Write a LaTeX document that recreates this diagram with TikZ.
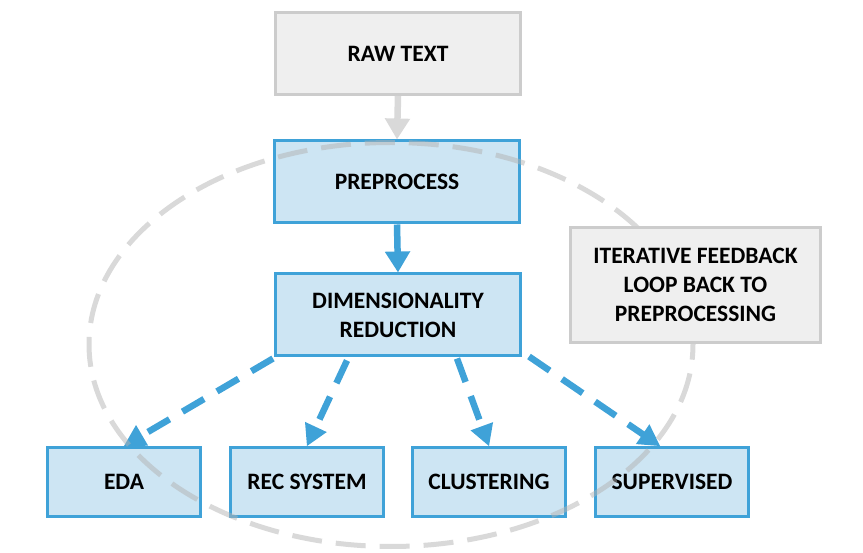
\documentclass[tikz,border=0pt]{standalone}
\usepackage{fontspec}
\setmainfont{Carlito}
\usetikzlibrary{arrows.meta,calc}
\definecolor{bbord}{HTML}{3FA2D8}
\definecolor{bfill}{HTML}{CDE5F3}
\definecolor{gbord}{HTML}{CCCCCC}
\definecolor{gfill}{HTML}{EFEFEF}
\definecolor{garrow}{HTML}{D9D9D9}
\definecolor{gloop}{HTML}{B3B3B3}
\tikzset{
  boxtxt/.style={font=\fontsize{23.5}{29}\selectfont\bfseries, text=black, align=center, inner sep=0pt},
  bluebox/.style={boxtxt, draw=bbord, fill=bfill, line width=3pt, rectangle},
  graybox/.style={boxtxt, draw=gbord, fill=gfill, line width=3pt, rectangle},
  bigbox/.style={minimum width=245pt, minimum height=82pt},
  smallbox/.style={minimum width=153pt, minimum height=69pt},
  bluearrow/.style={draw=bbord, line width=6.5pt, -{Triangle[width=24pt,length=21pt]}},
  grayarrow/.style={draw=garrow, line width=6.5pt, -{Triangle[width=24pt,length=21pt]}},
  dashline/.style={draw=bbord, line width=6.5pt, dash pattern=on 25pt off 15pt, shorten >=19pt},
  tiphead/.style={fill=bbord},
  loopline/.style={draw=gloop, draw opacity=0.5, line width=5pt, dash pattern=on 30pt off 14pt}
}
\begin{document}
\begin{tikzpicture}[x=1pt,y=1pt]
\useasboundingbox (0,0) rectangle (863,-553);
\node[graybox,bigbox] (raw) at (398,-53.5) {RAW TEXT};
\node[bluebox,bigbox] (pre) at (397,-182) {PREPROCESS};
\node[bluebox,bigbox] (dim) at (398,-315) {DIMENSIONALITY\\REDUCTION};
\node[bluebox,smallbox] (eda) at (124,-482) {EDA};
\node[bluebox,smallbox] (rec) at (307,-482) {REC SYSTEM};
\node[bluebox,smallbox] (clu) at (489,-482) {CLUSTERING};
\node[bluebox,smallbox] (sup) at (672,-482) {SUPERVISED};
\draw[grayarrow] (raw.south) -- (pre.north);
\draw[bluearrow] (pre.south) -- (dim.north);
\coordinate (s1) at ($(dim.south west)+(-1,-1)$);
\coordinate (s2) at ($(dim.south)+(-51,-3)$);
\coordinate (s3) at ($(dim.south)+(59,-1)$);
\coordinate (s4) at ($(dim.south east)+(7,1)$);
\coordinate (e1) at (eda.north);
\coordinate (e2) at (rec.north);
\coordinate (e3) at (clu.north);
\coordinate (e4) at ($(sup.north)+(-12,0)$);
\foreach \i in {1,2,3,4}{
  \draw[dashline] (s\i) -- (e\i);
  \coordinate (b\i) at ($(e\i)!21pt!(s\i)$);
  \fill[tiphead] (e\i) -- ($(b\i)!12pt!90:(e\i)$) -- ($(b\i)!12pt!-90:(e\i)$) -- cycle;
}
\coordinate (loopc) at (391,-344.5);
\draw[loopline] (loopc) ellipse [x radius=302, y radius=202];
\node[graybox, minimum width=250pt, minimum height=115pt] (fb) at (695.5,-285) {ITERATIVE FEEDBACK\\LOOP BACK TO\\PREPROCESSING};
\end{tikzpicture}
\end{document}
